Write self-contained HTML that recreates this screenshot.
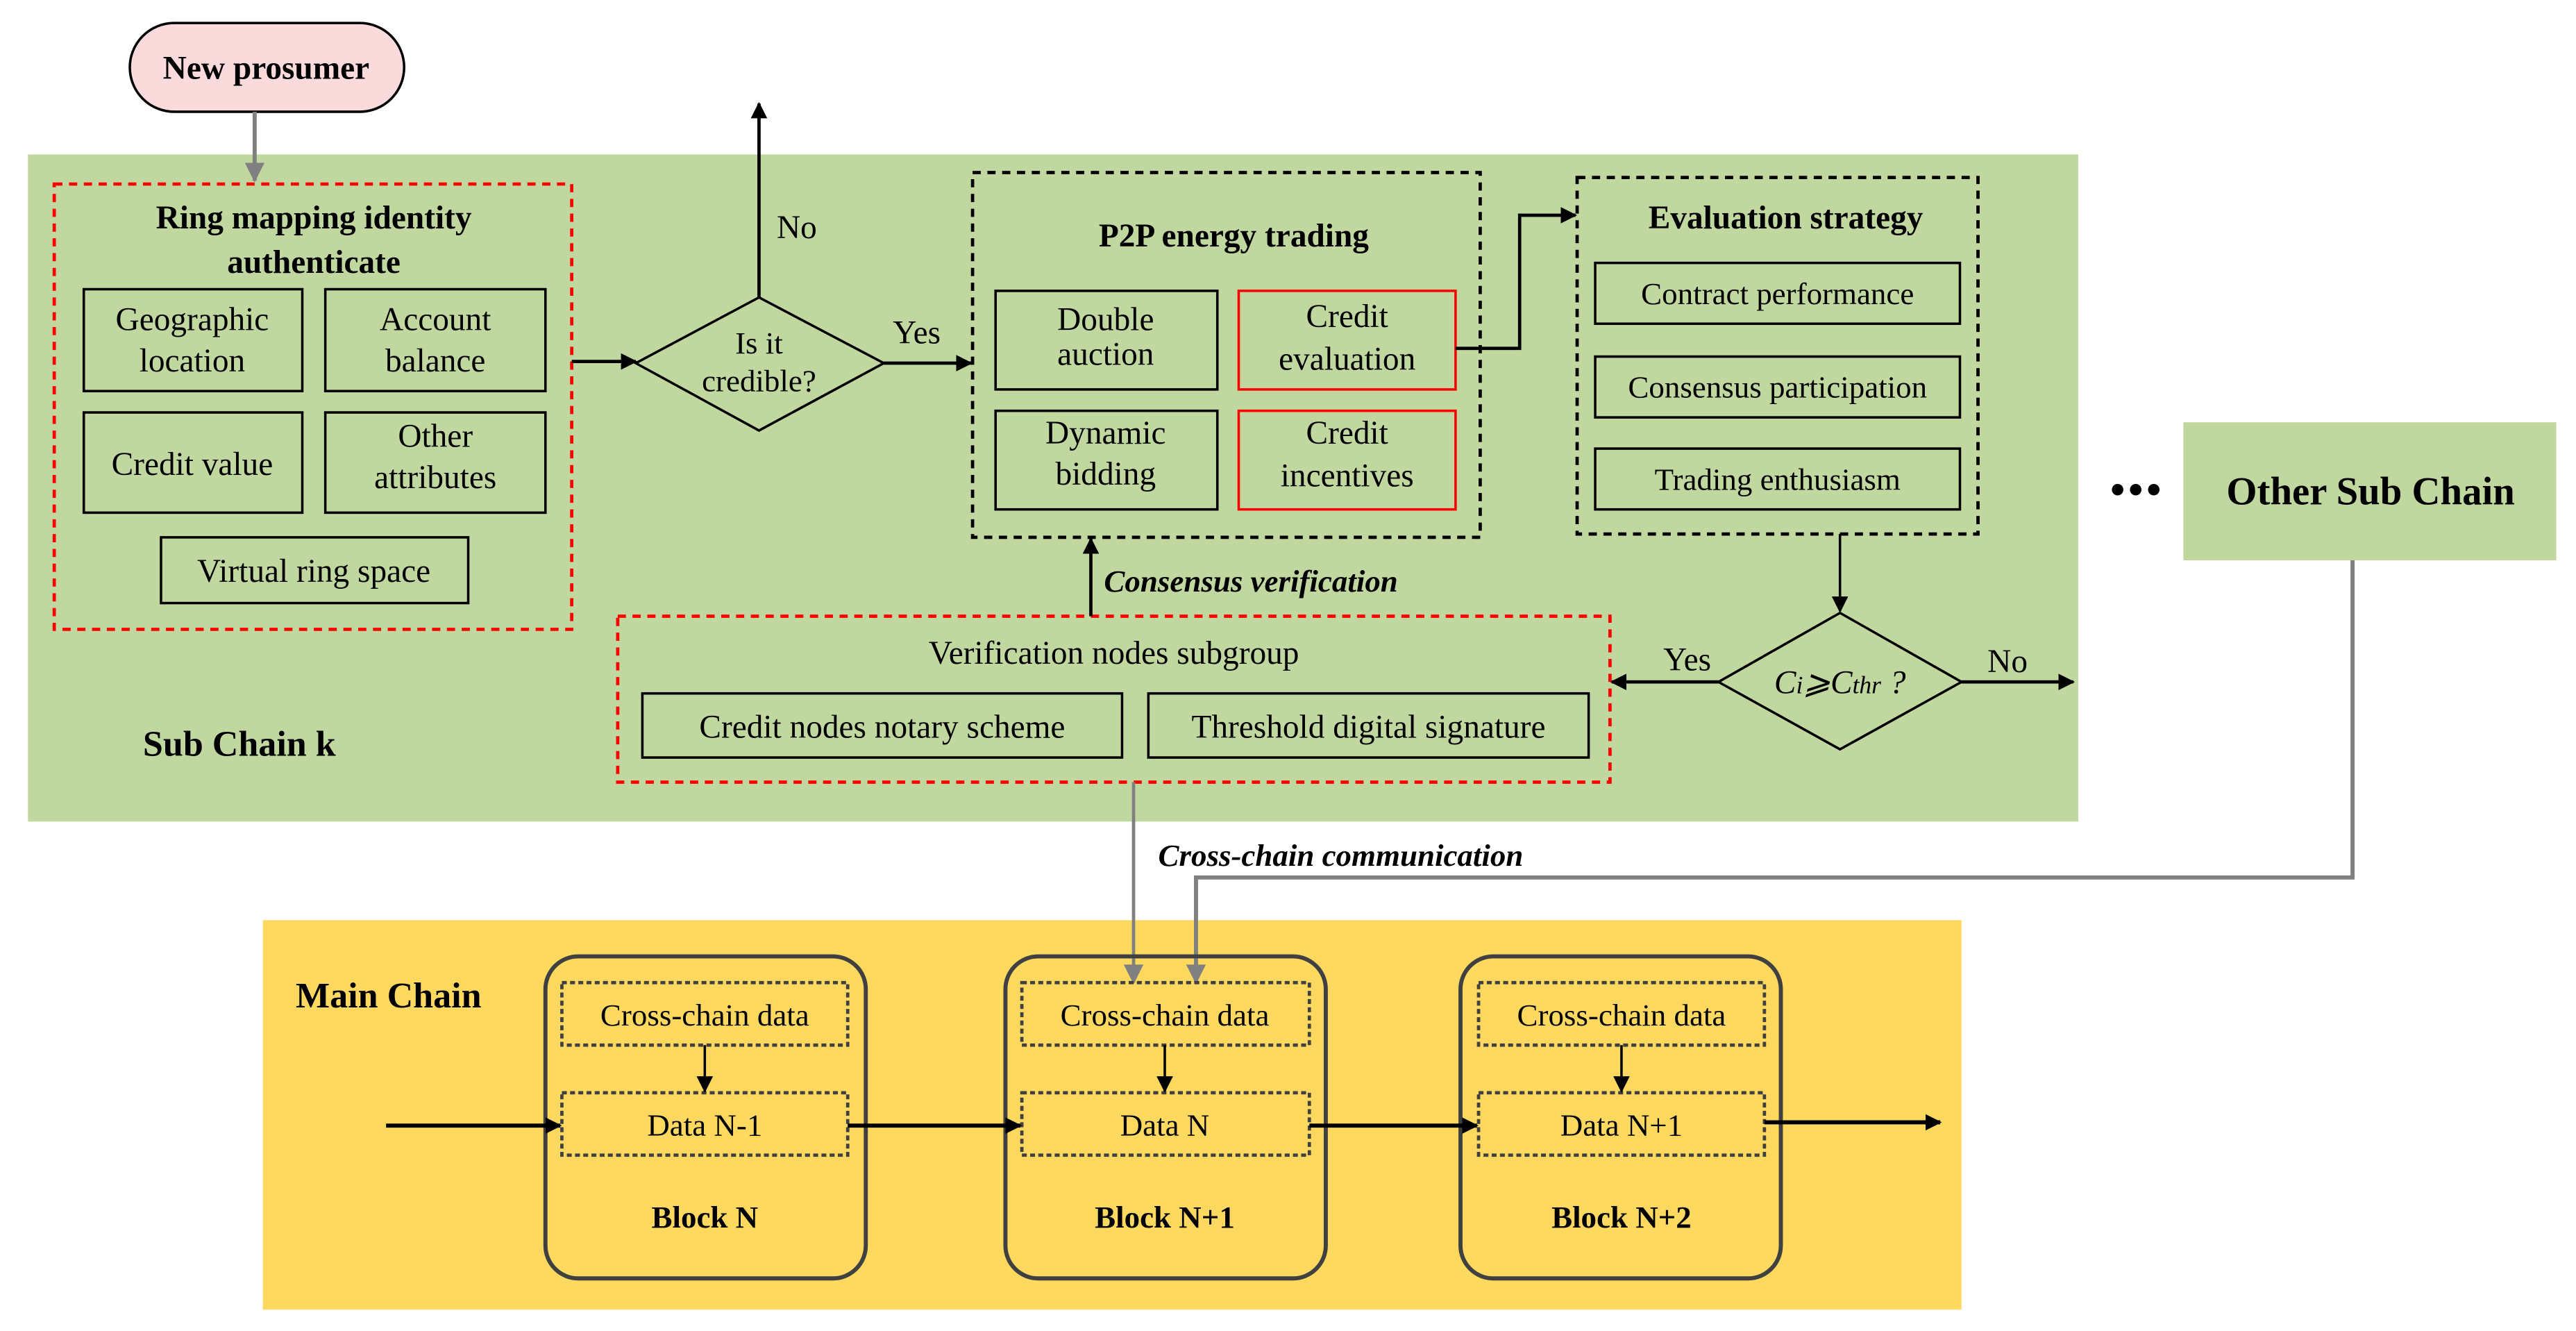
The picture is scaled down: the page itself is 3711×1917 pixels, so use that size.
<!DOCTYPE html>
<html><head><meta charset="utf-8"><style>html,body{margin:0;padding:0;background:#fff}svg{display:block}svg text{font-family:"Liberation Serif","Times New Roman","DejaVu Serif",serif}</style></head>
<body>
<svg width="3711" height="1917" viewBox="0 0 1568 810" xmlns="http://www.w3.org/2000/svg">
<defs>
<marker id="a" markerWidth="10" markerHeight="10" refX="9" refY="5" orient="auto" markerUnits="userSpaceOnUse"><path d="M0,0 L10,5 L0,10 z" fill="#000"/></marker>
<marker id="g" markerWidth="12" markerHeight="14" refX="11" refY="6" orient="auto" markerUnits="userSpaceOnUse"><path d="M0,0 L12,6 L0,12 z" fill="#808080"/></marker>
</defs>
<g font-size="20" text-anchor="middle" font-family="Liberation Serif, Times New Roman, DejaVu Serif, serif">
<rect x="17" y="94" width="1248" height="406" fill="#c0d89f"/>
<rect x="1329" y="257" width="227" height="84" fill="#c0d89f"/>
<text x="1443" y="307" font-size="24" font-weight="bold">Other Sub Chain</text>
<circle cx="1289" cy="298" r="3.5" fill="#000"/><circle cx="1300" cy="298" r="3.5" fill="#000"/><circle cx="1311" cy="298" r="3.5" fill="#000"/>
<rect x="160" y="560" width="1034" height="237" fill="#ffd95f"/>
<rect x="79" y="14" width="167" height="54" rx="27" fill="#fadadb" stroke="#000" stroke-width="1.5"/>
<text x="162" y="48" font-weight="bold">New prosumer</text>
<line x1="155" y1="68" x2="155" y2="110" stroke="#808080" stroke-width="2.5" marker-end="url(#g)"/>
<rect x="33" y="112" width="315" height="271" fill="none" stroke="#f00" stroke-width="2" stroke-dasharray="5,4"/>
<text x="191" y="139" font-weight="bold">Ring mapping identity</text>
<text x="191" y="166" font-weight="bold">authenticate</text>
<g fill="none" stroke="#000" stroke-width="1.5">
<rect x="51" y="176" width="133" height="62"/><rect x="198" y="176" width="134" height="62"/>
<rect x="51" y="251" width="133" height="61"/><rect x="198" y="251" width="134" height="61"/>
<rect x="98" y="327" width="187" height="40"/>
</g>
<text x="117" y="201">Geographic</text><text x="117" y="226">location</text>
<text x="265" y="201">Account</text><text x="265" y="226">balance</text>
<text x="117" y="289">Credit value</text>
<text x="265" y="272">Other</text><text x="265" y="297">attributes</text>
<text x="191" y="354">Virtual ring space</text>
<line x1="348" y1="220" x2="387" y2="220" stroke="#000" stroke-width="2" marker-end="url(#a)"/>
<polygon points="387,221 462,181 538,221 462,262" fill="none" stroke="#000" stroke-width="1.5"/>
<text x="462" y="215" font-size="19">Is it</text><text x="462" y="238" font-size="19">credible?</text>
<line x1="462" y1="181" x2="462" y2="63" stroke="#000" stroke-width="2" marker-end="url(#a)"/>
<text x="485" y="145">No</text>
<line x1="538" y1="221" x2="591" y2="221" stroke="#000" stroke-width="2" marker-end="url(#a)"/>
<text x="558" y="209">Yes</text>
<rect x="592" y="105" width="309" height="222" fill="none" stroke="#000" stroke-width="2" stroke-dasharray="5,4"/>
<text x="751" y="150" font-weight="bold">P2P energy trading</text>
<rect x="606" y="177" width="135" height="60" fill="none" stroke="#000" stroke-width="1.5"/>
<rect x="754" y="177" width="132" height="60" fill="none" stroke="#f00" stroke-width="1.5"/>
<rect x="606" y="250" width="135" height="60" fill="none" stroke="#000" stroke-width="1.5"/>
<rect x="754" y="250" width="132" height="60" fill="none" stroke="#f00" stroke-width="1.5"/>
<text x="673" y="201">Double</text><text x="673" y="222">auction</text>
<text x="820" y="199">Credit</text><text x="820" y="225">evaluation</text>
<text x="673" y="270">Dynamic</text><text x="673" y="295">bidding</text>
<text x="820" y="270">Credit</text><text x="820" y="296">incentives</text>
<polyline points="886,212 925,212 925,131 959,131" fill="none" stroke="#000" stroke-width="2" marker-end="url(#a)"/>
<rect x="960" y="108" width="244" height="217" fill="none" stroke="#000" stroke-width="2" stroke-dasharray="5,4"/>
<text x="1087" y="139" font-weight="bold">Evaluation strategy</text>
<g fill="none" stroke="#000" stroke-width="1.5">
<rect x="971" y="160" width="222" height="37"/><rect x="971" y="217" width="222" height="37"/><rect x="971" y="273" width="222" height="37"/>
</g>
<text x="1082" y="185" font-size="19">Contract performance</text>
<text x="1082" y="242" font-size="19">Consensus participation</text>
<text x="1082" y="298" font-size="19">Trading enthusiasm</text>
<line x1="1120" y1="325" x2="1120" y2="372" stroke="#000" stroke-width="1.5" marker-end="url(#a)"/>
<polygon points="1046,415 1120,373 1194,415 1120,456" fill="none" stroke="#000" stroke-width="1.5"/>
<text x="1120" y="422" font-size="20" font-style="italic">C<tspan font-size="15">i</tspan>⩾C<tspan font-size="15">thr</tspan> ?</text>
<line x1="1046" y1="415" x2="981" y2="415" stroke="#000" stroke-width="2" marker-end="url(#a)"/>
<text x="1027" y="408">Yes</text>
<line x1="1194" y1="415" x2="1262" y2="415" stroke="#000" stroke-width="2" marker-end="url(#a)"/>
<text x="1222" y="409">No</text>
<rect x="376" y="375" width="604" height="101" fill="none" stroke="#f00" stroke-width="2" stroke-dasharray="5,4"/>
<text x="678" y="404">Verification nodes subgroup</text>
<rect x="391" y="422" width="292" height="39" fill="none" stroke="#000" stroke-width="1.5"/>
<rect x="699" y="422" width="268" height="39" fill="none" stroke="#000" stroke-width="1.5"/>
<text x="537" y="449">Credit nodes notary scheme</text>
<text x="833" y="449">Threshold digital signature</text>
<line x1="664" y1="375" x2="664" y2="328" stroke="#000" stroke-width="2" marker-end="url(#a)"/>
<text x="672" y="360" text-anchor="start" font-weight="bold" font-style="italic" font-size="19">Consensus verification</text>
<text x="87" y="460" text-anchor="start" font-weight="bold" font-size="22">Sub Chain k</text>
<line x1="690" y1="476" x2="690" y2="598" stroke="#808080" stroke-width="2" marker-end="url(#g)"/>
<polyline points="1432,341 1432,534 728,534 728,598" fill="none" stroke="#808080" stroke-width="2.5" marker-end="url(#g)"/>
<text x="705" y="527" text-anchor="start" font-weight="bold" font-style="italic" font-size="19">Cross-chain communication</text>
<text x="180" y="613" text-anchor="start" font-weight="bold" font-size="22">Main Chain</text>
<rect x="332" y="582" width="195" height="196" rx="20" fill="none" stroke="#404040" stroke-width="2.5"/>
<rect x="612" y="582" width="195" height="196" rx="20" fill="none" stroke="#404040" stroke-width="2.5"/>
<rect x="889" y="582" width="195" height="196" rx="20" fill="none" stroke="#404040" stroke-width="2.5"/>
<g fill="none" stroke="#404040" stroke-width="2" stroke-dasharray="3,2">
<rect x="342" y="598" width="174" height="38"/><rect x="342" y="665" width="174" height="38"/>
<rect x="622" y="598" width="175" height="38"/><rect x="622" y="665" width="175" height="38"/>
<rect x="900" y="598" width="174" height="38"/><rect x="900" y="665" width="174" height="38"/>
</g>
<text x="429" y="624" font-size="19">Cross-chain data</text><text x="709" y="624" font-size="19">Cross-chain data</text><text x="987" y="624" font-size="19">Cross-chain data</text>
<text x="429" y="691" font-size="19">Data N-1</text><text x="709" y="691" font-size="19">Data N</text><text x="987" y="691" font-size="19">Data N+1</text>
<text x="429" y="747" font-weight="bold" font-size="19">Block N</text><text x="709" y="747" font-weight="bold" font-size="19">Block N+1</text><text x="987" y="747" font-weight="bold" font-size="19">Block N+2</text>
<g stroke="#000" stroke-width="1.5">
<line x1="429" y1="636" x2="429" y2="664" marker-end="url(#a)"/>
<line x1="709" y1="636" x2="709" y2="664" marker-end="url(#a)"/>
<line x1="987" y1="636" x2="987" y2="664" marker-end="url(#a)"/>
</g>
<g stroke="#000" stroke-width="2.5">
<line x1="235" y1="685" x2="341" y2="685" marker-end="url(#a)"/>
<line x1="516" y1="685" x2="621" y2="685" marker-end="url(#a)"/>
<line x1="797" y1="685" x2="899" y2="685" marker-end="url(#a)"/>
<line x1="1074" y1="683" x2="1181" y2="683" marker-end="url(#a)"/>
</g>
</g>
</svg>
</body></html>
